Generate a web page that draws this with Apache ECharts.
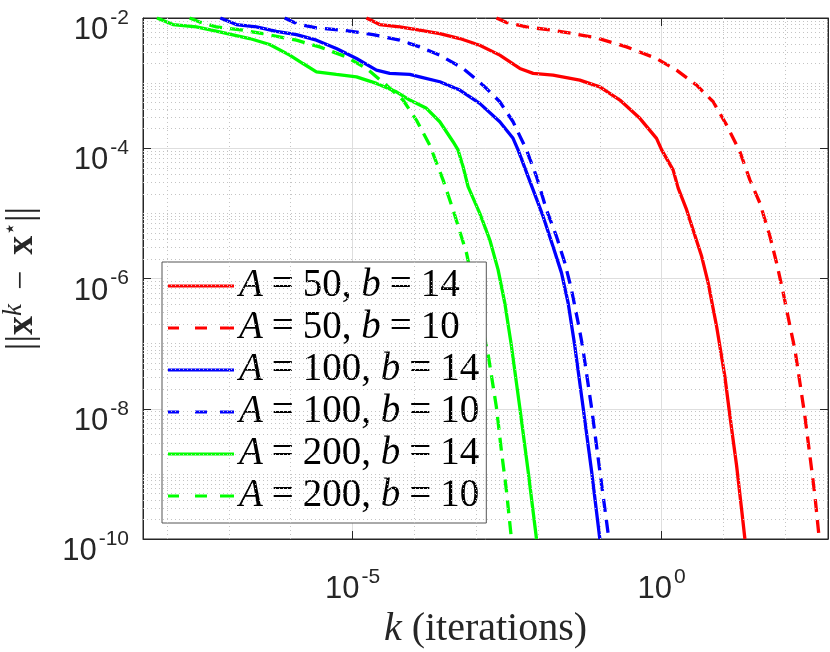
<!DOCTYPE html>
<html>
<head>
<meta charset="utf-8">
<script src="https://cdn.jsdelivr.net/npm/echarts@6/dist/echarts.min.js"></script>
<style>
html, body { margin: 0; padding: 0; background: #fff; }
#chart { width: 830px; height: 652px; }
</style>
</head>
<body>
<div id="chart"></div>
<script>
// [k, ||x^k - x*||]
const red14 = [
    [1.68e-5, 1e-2], [2.75e-5, 7.93e-3], [5.81e-5, 7.28e-3], [1.22e-4, 6.49e-3],
    [2.58e-4, 5.77e-3], [5.43e-4, 4.84e-3], [1.14e-3, 3.82e-3], [2.41e-3, 2.69e-3],
    [5.08e-3, 1.68e-3], [8.34e-3, 1.41e-3], [1.75e-2, 1.33e-3], [4.74e-2, 1.11e-3],
    [0.1, 8.77e-4], [0.211, 5.50e-4], [0.444, 2.88e-4], [0.826, 1.42e-4],
    [1.0, 9.42e-5], [1.53, 4.66e-5], [1.85, 2.44e-5], [2.53, 1.14e-5],
    [4.43, 2.19e-6], [5.65, 8.57e-7], [7.73, 1.85e-7], [10.5, 3.18e-8],
    [12.7, 7.76e-9], [16.3, 1.33e-9], [19.6, 2.89e-10], [22.2, 1e-10]
];
const red10 = [
    [2.13e-3, 1e-2], [3.09e-3, 8.51e-3], [6.52e-3, 7.28e-3], [1.75e-2, 6.49e-3],
    [3.70e-2, 5.77e-3], [8.85e-2, 4.94e-3], [0.270, 3.60e-3], [0.826, 2.39e-3],
    [1.74, 1.58e-3], [3.67, 9.31e-4], [6.81, 5.18e-4], [11.2, 2.28e-4],
    [18.4, 8.87e-5], [26.7, 3.27e-5], [38.8, 1.44e-5], [56.4, 4.43e-6],
    [72.3, 1.73e-6], [92.5, 6.03e-7], [119, 1.85e-7], [143, 8.15e-8],
    [172, 2.52e-8], [207, 7.76e-9], [250, 1.89e-9], [301, 4.62e-10], [354, 1e-10]
];
const blue14 = [
    [7.28e-8, 1e-2], [1.32e-7, 7.93e-3], [2.79e-7, 7.28e-3], [5.87e-7, 6.25e-3],
    [1.24e-6, 5.57e-3], [2.61e-6, 4.56e-3], [5.48e-6, 3.40e-3], [1.16e-5, 2.39e-3],
    [2.44e-5, 1.58e-3], [4.00e-5, 1.41e-3], [8.43e-5, 1.36e-3], [1.22e-4, 1.25e-3],
    [2.58e-4, 1.05e-3], [5.43e-4, 7.82e-4], [1.14e-3, 4.89e-4], [2.41e-3, 2.55e-4],
    [3.95e-3, 1.42e-4], [4.76e-3, 9.42e-5], [6.92e-3, 3.67e-5], [8.34e-3, 2.30e-5],
    [1.21e-2, 8.97e-6], [1.75e-2, 3.11e-6], [2.40e-2, 1.22e-6], [3.07e-2, 4.23e-7],
    [3.94e-2, 9.16e-8], [5.37e-2, 1.04e-8], [7.35e-2, 1.11e-9], [0.1, 1e-10]
];
const blue10 = [
    [8.00e-7, 1e-2], [1.24e-6, 8.20e-3], [2.61e-6, 7.03e-3], [7.01e-6, 6.49e-3],
    [2.15e-5, 5.57e-3], [5.81e-5, 4.56e-3], [1.22e-4, 3.60e-3], [2.58e-4, 2.69e-3],
    [6.14e-4, 1.68e-3], [1.29e-3, 9.31e-4], [2.41e-3, 5.18e-4], [3.95e-3, 2.55e-4],
    [6.52e-3, 9.42e-5], [9.46e-3, 3.67e-5], [1.37e-2, 1.14e-5], [1.99e-2, 4.43e-6],
    [2.72e-2, 1.73e-6], [3.48e-2, 6.76e-7], [4.46e-2, 2.09e-7], [5.25e-2, 9.16e-8],
    [7.35e-2, 1.04e-8], [0.1, 1.11e-9], [0.140, 1e-10]
];
const green14 = [
    [6.87e-9, 1e-2], [1.25e-8, 7.93e-3], [2.98e-8, 7.28e-3], [7.10e-8, 6.11e-3],
    [2.17e-7, 4.84e-3], [4.57e-7, 3.92e-3], [9.64e-7, 2.69e-3], [1.58e-6, 2.00e-3],
    [2.61e-6, 1.49e-3], [5.48e-6, 1.36e-3], [1.16e-5, 1.25e-3], [2.44e-5, 9.89e-4],
    [5.13e-5, 7.36e-4], [8.43e-5, 5.50e-4], [1.57e-4, 4.10e-4], [2.58e-4, 2.55e-4],
    [4.23e-4, 1.26e-4], [5.09e-4, 9.42e-5], [6.14e-4, 5.22e-5], [7.40e-4, 2.58e-5],
    [1.14e-3, 1.01e-5], [1.66e-3, 3.94e-6], [2.26e-3, 1.37e-6], [2.90e-3, 4.23e-7],
    [3.72e-3, 9.16e-8], [5.08e-3, 1.04e-8], [6.92e-3, 1.11e-9], [9.46e-3, 1e-10]
];
const green10 = [
    [2.32e-8, 1e-2], [3.37e-8, 8.69e-3], [6.28e-8, 7.28e-3], [1.69e-7, 6.49e-3],
    [3.56e-7, 5.77e-3], [1.24e-6, 4.56e-3], [2.94e-6, 3.60e-3], [7.96e-6, 2.53e-3],
    [1.68e-5, 1.68e-3], [3.54e-5, 9.31e-4], [6.56e-5, 5.50e-4], [1.08e-4, 2.71e-4],
    [1.77e-4, 1.12e-4], [2.91e-4, 3.27e-5], [4.23e-4, 1.14e-5], [6.97e-4, 2.47e-6],
    [1.56e-3, 6.84e-8], [2.13e-3, 1.04e-8], [2.56e-3, 2.26e-9], [3.09e-3, 5.51e-10],
    [3.72e-3, 1e-10]
];

const seriesNames = ['A = 50, b = 14', 'A = 50, b = 10', 'A = 100, b = 14',
                     'A = 100, b = 10', 'A = 200, b = 14', 'A = 200, b = 10'];
const seriesData = [red14, red10, blue14, blue10, green14, green10];
const seriesColors = ['#ff0000', '#ff0000', '#0000ff', '#0000ff', '#00ff00', '#00ff00'];
const seriesDashed = [false, true, false, true, false, true];

const xTickExps = [-5, 0];
const yTickExps = [-10, -8, -6, -4, -2];
const xMin = 4.09e-9, xMax = 490;
const yMin = 1e-10, yMax = 1e-2;

const axisColor = '#262626';

// legend samples: a solid bar and three dashes
const solidIcon = 'path://M0,0H66V3H0Z';
const dashIcon = 'path://M0,0H11V3H0Z M27,0H39V3H27Z M52,0H66V3H52Z';

// dotted minor grid (MATLAB style): every decade on x, 1..9 x 10^e on y
const minorLines = [];
for (let e = -10; e < -2; e++) {
    for (let m = 1; m <= 9; m++) {
        if (m === 1 && yTickExps.includes(e)) continue;
        minorLines.push({ yAxis: m * Math.pow(10, e) });
    }
}
for (let e = -8; e <= 2; e++) {
    if (!xTickExps.includes(e)) minorLines.push({ xAxis: Math.pow(10, e) });
}

function powLabel(exps) {
    return function(v) {
        const l = Math.log10(v);
        const e = Math.round(l);
        if (Math.abs(l - e) > 1e-6 || !exps.includes(e)) return '';
        return '{b|10}{e|' + e + '}';
    };
}

// "10" sits in the lower part of a tall line, the exponent in its middle
const tickRich = {
    b: { fontFamily: 'Liberation Sans', fontSize: 31, lineHeight: 38, verticalAlign: 'bottom', color: axisColor },
    e: { fontFamily: 'Liberation Sans', fontSize: 21, lineHeight: 56, verticalAlign: 'middle', color: axisColor, padding: [0, 0, 0, 2] }
};

const serif = 'Liberation Serif';

const chart = echarts.init(document.getElementById('chart'));

const series = seriesNames.map((name, i) => ({
    name: name,
    type: 'line',
    data: seriesData[i],
    showSymbol: false,
    symbol: 'none',
    z: 3,
    lineStyle: {
        color: seriesColors[i],
        width: 3.3,
        type: seriesDashed[i] ? [13, 8] : 'solid'
    },
    itemStyle: { color: seriesColors[i], borderWidth: 0 }
}));

series.push({
    name: 'minor-grid',
    type: 'line',
    data: [],
    z: 1,
    silent: true,
    markLine: {
        silent: true,
        animation: false,
        precision: 20,
        symbol: ['none', 'none'],
        label: { show: false },
        lineStyle: { color: '#c4c4c4', width: 1, type: [1, 3] },
        emphasis: { disabled: true },
        data: minorLines
    }
});

const baseX = {
    type: 'log',
    logBase: 100000,
    min: xMin,
    max: xMax,
    axisLine: { show: true, lineStyle: { color: axisColor, width: 1 } },
    axisTick: { show: true, inside: true, length: 8, lineStyle: { color: axisColor } }
};
const baseY = {
    type: 'log',
    logBase: 100,
    min: yMin,
    max: yMax,
    axisLine: { show: true, lineStyle: { color: axisColor, width: 1 } },
    axisTick: { show: true, inside: true, length: 8, lineStyle: { color: axisColor } }
};

const option = {
    animation: false,
    backgroundColor: '#fff',
    grid: {
        left: 143, right: 2, top: 18, bottom: 113,
        containLabel: false,
        outerBoundsMode: 'none',
        show: true, borderColor: axisColor, borderWidth: 1, backgroundColor: 'transparent'
    },
    xAxis: [
        Object.assign({}, baseX, {
            position: 'bottom',
            name: '{i|k} (iterations)',
            nameLocation: 'middle',
            nameGap: 68,
            nameTextStyle: {
                fontFamily: serif, fontSize: 40, color: axisColor,
                rich: { i: { fontFamily: serif, fontStyle: 'italic', fontSize: 40, color: axisColor } }
            },
            axisLabel: {
                margin: 10,
                formatter: powLabel(xTickExps),
                showMinLabel: false,
                showMaxLabel: false,
                rich: tickRich
            },
            splitLine: { show: true, lineStyle: { color: '#dedede', width: 1 } }
        }),
        Object.assign({}, baseX, {
            position: 'top',
            axisLabel: { show: false },
            splitLine: { show: false }
        })
    ],
    yAxis: [
        Object.assign({}, baseY, {
            position: 'left',
            name: '{bar|||}{bx|x}{sup|k}{op|−}{bx|x}{star|⋆}{bar|||}',
            nameLocation: 'middle',
            nameGap: 99,
            nameTextStyle: {
                fontFamily: serif, fontSize: 36, color: axisColor,
                rich: {
                    bar: { fontFamily: serif, fontSize: 38, lineHeight: 44, color: axisColor },
                    bx: { fontFamily: serif, fontWeight: 'bold', fontSize: 38, color: axisColor },
                    sup: { fontFamily: serif, fontStyle: 'italic', fontSize: 27, verticalAlign: 'top', color: axisColor },
                    op: { fontFamily: serif, fontSize: 34, padding: [0, 16, 0, 14], color: axisColor },
                    star: { fontFamily: 'DejaVu Sans', fontSize: 22, verticalAlign: 'top', color: axisColor }
                }
            },
            axisLabel: {
                margin: 14,
                formatter: powLabel(yTickExps),
                rich: tickRich
            },
            splitLine: { show: true, lineStyle: { color: '#dedede', width: 1 } }
        }),
        Object.assign({}, baseY, {
            position: 'right',
            axisLabel: { show: false },
            splitLine: { show: false }
        })
    ],
    legend: {
        data: seriesNames.map((name, i) => ({ name: name, icon: seriesDashed[i] ? dashIcon : solidIcon })),
        orient: 'vertical',
        left: 162,
        top: 262,
        padding: [3, 7, 6, 6],
        itemGap: 0,
        itemWidth: 66,
        itemHeight: 3,
        selectedMode: false,
        backgroundColor: '#fff',
        borderColor: '#555',
        borderWidth: 1,
        borderRadius: 0,
        itemStyle: { borderWidth: 0 },
        textStyle: {
            fontFamily: serif, fontSize: 39, lineHeight: 42, color: '#000',
            rich: {
                i: { fontFamily: serif, fontStyle: 'italic', fontSize: 39, color: '#000' },
                q: { fontFamily: serif, fontSize: 39, padding: [0, 9, 0, 9], color: '#000' },
                t: { fontFamily: serif, fontSize: 39, color: '#000' }
            }
        },
        formatter: function(name) {
            const m = name.match(/A = (\d+), b = (\d+)/);
            return '{i|A}{q|=}{t|' + m[1] + ', }{i|b}{q|=}{t|' + m[2] + '}';
        }
    },
    series: series
};

chart.setOption(option);
</script>
</body>
</html>
